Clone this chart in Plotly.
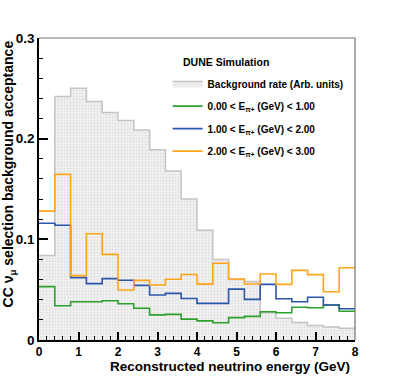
import numpy as np
import plotly.graph_objects as go

# binning of reconstructed neutrino energy (GeV)
bin_edges = np.linspace(0, 8, 21)

# background rate (arb. units)
background = [0.084, 0.242, 0.250, 0.237, 0.226, 0.218, 0.2085, 0.189, 0.168, 0.140,
              0.109, 0.080, 0.060, 0.058, 0.027, 0.0215, 0.0173, 0.0144, 0.013, 0.0116]

# selection background acceptance per E_pi+ slice
acc_0_1 = [0.053, 0.034, 0.038, 0.038, 0.039, 0.036, 0.0315, 0.025, 0.0255, 0.0207,
           0.019, 0.0172, 0.0222, 0.0235, 0.0281, 0.027, 0.0325, 0.032, 0.0348, 0.0285]
acc_1_2 = [0.116, 0.114, 0.062, 0.056, 0.061, 0.0593, 0.0543, 0.0447, 0.0463, 0.0412,
           0.0364, 0.0364, 0.0505, 0.0404, 0.0553, 0.041, 0.038, 0.0424, 0.0348, 0.0311]
acc_2_3 = [0.128, 0.1645, 0.0639, 0.1056, 0.0851, 0.0497, 0.0592, 0.0546, 0.0603, 0.065,
           0.0555, 0.0762, 0.0606, 0.0556, 0.0655, 0.0553, 0.0692, 0.0649, 0.048, 0.0718]

series = [
    ("0.00 < E<sub>π+</sub> (GeV) < 1.00", acc_0_1, "#2ca02c"),
    ("1.00 < E<sub>π+</sub> (GeV) < 2.00", acc_1_2, "#2b55a8"),
    ("2.00 < E<sub>π+</sub> (GeV) < 3.00", acc_2_3, "#ffa31a"),
]

FONT = "Liberation Sans, Arial, Helvetica, sans-serif"


def step_y(vals):
    # repeat last value so the hv step reaches the upper edge
    return list(vals) + [vals[-1]]


fig = go.Figure()

fig.add_trace(go.Scatter(
    x=bin_edges, y=step_y(background),
    mode="lines", line_shape="hv",
    line=dict(color="#c4c4c4", width=1.5),
    fill="tozeroy",
    fillcolor="#eeeeee",
    fillpattern=dict(shape=".", fgcolor="#c8c8c8", bgcolor="#f2f2f2", size=3, solidity=0.3),
    name="Background rate (Arb. units)",
    legendgroup="bg",
))

for i, (label, vals, color) in enumerate(series):
    fig.add_trace(go.Scatter(
        x=bin_edges, y=step_y(vals),
        mode="lines", line_shape="hv",
        line=dict(color=color, width=1.6),
        name=label,
        legendgroup=f"g{i}",
    ))

fig.update_xaxes(
    range=[0, 8], dtick=1, ticks="inside", ticklen=8, tickwidth=1.5, tickcolor="black",
    showline=True, linecolor="black", linewidth=1.5, showgrid=False, zeroline=False,
    minor=dict(dtick=0.2, ticks="inside", ticklen=4, tickwidth=1.2, tickcolor="black"),
    tickfont=dict(family=FONT, size=12, color="black", weight="bold"),
)
fig.update_yaxes(
    range=[0, 0.3], dtick=0.1, ticks="inside", ticklen=9, tickwidth=1.5, tickcolor="black",
    showline=True, linecolor="black", linewidth=1.5, showgrid=False, zeroline=False,
    minor=dict(dtick=0.02, ticks="inside", ticklen=4.5, tickwidth=1.2, tickcolor="black"),
    tickfont=dict(family=FONT, size=13.5, color="black", weight="bold"),
)

# grey frame on top and right
fig.add_shape(type="line", xref="paper", yref="paper", x0=0, x1=1, y0=1, y1=1,
              line=dict(color="#707070", width=1.2))
fig.add_shape(type="line", xref="paper", yref="paper", x0=1, x1=1, y0=0, y1=1,
              line=dict(color="#707070", width=1.2))

fig.add_annotation(
    text="Reconstructed neutrino energy (GeV)", xref="paper", yref="paper",
    x=0.99, y=-0.089, xanchor="right", yanchor="middle", showarrow=False,
    font=dict(family=FONT, size=13.5, color="black", weight="bold"),
)
fig.add_annotation(
    text="CC ν<sub>μ</sub> selection background acceptance", xref="paper", yref="paper",
    x=-0.095, y=1.0, xanchor="center", yanchor="top", textangle=-90, showarrow=False,
    font=dict(family=FONT, size=14, color="black", weight="bold"),
)
fig.add_annotation(
    text="DUNE Simulation", xref="paper", yref="paper",
    x=0.45, y=0.921, xanchor="left", yanchor="middle", showarrow=False,
    font=dict(family=FONT, size=10.5, color="black", weight="bold"),
)

fig.update_layout(
    width=395, height=379,
    margin=dict(l=39, r=40, t=38, b=39),
    paper_bgcolor="white", plot_bgcolor="white",
    showlegend=True,
    legend=dict(
        x=0.407, y=0.897, xanchor="left", yanchor="top",
        bgcolor="rgba(255,255,255,0)", borderwidth=0,
        font=dict(family=FONT, size=10, color="black", weight="bold"),
        tracegroupgap=3.5, itemwidth=30,
    ),
)

# drop the default body margin so the figure fills the window exactly
fig.write_html(
    "out.html",
    config={"displayModeBar": False},
    post_script="document.body.style.margin='0';",
)
